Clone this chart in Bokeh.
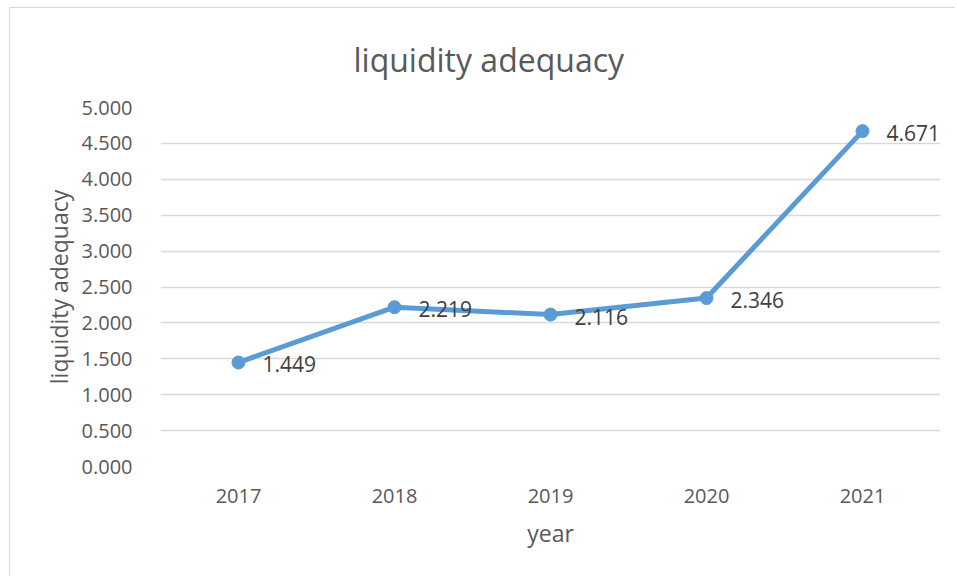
from bokeh.plotting import figure
from bokeh.models import ColumnDataSource, LabelSet, FactorRange
from bokeh.core.properties import value
from bokeh.embed import file_html
from bokeh.resources import INLINE

years = ["2017", "2018", "2019", "2020", "2021"]
values = [1.449, 2.219, 2.116, 2.346, 4.671]
labels = ["1.449", "2.219", "2.116", "2.346", "4.671"]
y_ticks = [0, 0.5, 1.0, 1.5, 2.0, 2.5, 3.0, 3.5, 4.0, 4.5, 5.0]
title_text = "liquidity adequacy"

FONT = "Open Sans"
src = ColumnDataSource(dict(x=years, y=values, t=labels))

p = figure(x_range=FactorRange(*years), y_range=(0, 5.0),
           width=946, height=569, output_backend="svg", toolbar_location=None,
           title=title_text, min_border_left=150, min_border_right=16,
           min_border_top=99, min_border_bottom=111)
p.outline_line_color = None
p.background_fill_color = "white"
p.border_fill_color = "white"
p.styles = {"margin-left": "9px", "margin-top": "7px",
            "border-left": "1.5px solid #d9d9d9", "border-top": "1.5px solid #d9d9d9"}

p.title.align = "left"
p.title.offset = 193
p.title.text_font = FONT
p.title.text_font_size = "32px"
p.title.text_font_style = "normal"
p.title.text_color = "#595959"
p.title.text_line_height = 0.9
p.title.standoff = 53

p.xgrid.grid_line_color = None
p.ygrid.grid_line_color = "#d9d9d9"
p.ygrid.grid_line_width = 1.5
p.yaxis.ticker = y_ticks
p.yaxis.major_label_overrides = {v: f"{v:.3f}" for v in y_ticks}
for ax in (p.xaxis[0], p.yaxis[0]):
    ax.axis_line_color = None
    ax.major_tick_line_color = None
    ax.minor_tick_line_color = None
    ax.major_label_text_font = FONT
    ax.major_label_text_font_size = "20px"
    ax.major_label_text_color = "#595959"
    ax.axis_label_text_font = FONT
    ax.axis_label_text_font_size = "23px"
    ax.axis_label_text_font_style = "normal"
    ax.axis_label_text_color = "#595959"
p.yaxis.major_label_standoff = 22
p.xaxis.major_label_standoff = 16
p.yaxis.axis_label = "liquidity adequacy"
p.xaxis.axis_label = "year"
p.yaxis.axis_label_standoff = 4
p.xaxis.axis_label_standoff = 11

p.line("x", "y", source=src, line_color="#5b9bd5", line_width=5)
p.scatter("x", "y", source=src, size=13, fill_color="#5b9bd5", line_color="#5b9bd5")

p.add_layout(LabelSet(x="x", y="y", text="t", source=src, x_offset=24, y_offset=-2,
                      text_baseline="middle", text_font=value(FONT), text_font_size="21px",
                      text_color="#404040"))

open("out.html", "w").write(file_html(p, INLINE))
